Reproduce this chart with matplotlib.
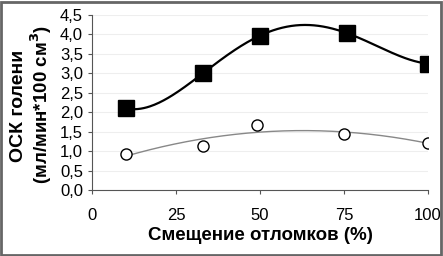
import numpy as np
import matplotlib.pyplot as plt
from matplotlib.patches import Rectangle

# data
shift = [10, 33, 50, 76, 100]
osk_black = [2.1, 3.0, 3.97, 4.03, 3.25]
circ_x = [10, 33, 49, 75, 100]
osk_open = [0.92, 1.12, 1.67, 1.45, 1.2]

xticks = [0, 25, 50, 75, 100]
yticks = np.arange(0, 4.51, 0.5)

plt.rcParams['font.family'] = ['Liberation Sans', 'DejaVu Sans']

fig = plt.figure(figsize=(4.43, 2.56), dpi=100)
ax = fig.add_axes([92/443, 1-190/256, 336/443, 175/256])

# smooth curves
xs = np.linspace(10, 100, 200)
p4 = np.polyfit(shift, osk_black, 4)
ax.plot(xs, np.polyval(p4, xs), color='black', lw=1.6, zorder=2)
p2 = np.polyfit(circ_x, osk_open, 2)
ax.plot(xs, np.polyval(p2, xs), color='#888888', lw=1.0, zorder=2)

ax.plot(shift, osk_black, 's', color='black', ms=11, zorder=3)
ax.plot(circ_x, osk_open, 'o', mfc='white', mec='black', mew=1.0, ms=8, zorder=3)

ax.set_xlim(0, 100)
ax.set_ylim(0, 4.5)
ax.set_xticks(xticks)
ax.set_yticks(yticks)
ax.set_yticklabels([('%.1f' % v).replace('.', ',') for v in yticks])
ax.tick_params(axis='both', labelsize=12, color='#555555', length=3, width=0.8)
ax.tick_params(axis='x', pad=10)
ax.grid(axis='y', color='#eeeeee', lw=0.8)
ax.set_axisbelow(True)
for s in ['top', 'right']:
    ax.spines[s].set_visible(False)
for s in ['left', 'bottom']:
    ax.spines[s].set_color('#555555')
    ax.spines[s].set_linewidth(0.8)

ax.set_xlabel('Смещение отломков (%)', fontsize=13.5, fontweight='bold', labelpad=3)
fig.text(19/443, 1-106/256, 'ОСК голени', rotation=90, fontsize=14,
         fontweight='bold', ha='center', va='center')
fig.text(41/443, 1-104/256, '(мл/мин*100 см$^\\mathbf{3}$)', rotation=90, fontsize=13.5,
         fontweight='bold', ha='center', va='center')

fig.patches.append(Rectangle((0.002, 0.004), 0.994, 0.99, transform=fig.transFigure,
                             fill=False, ec='#666666', lw=2))

fig.savefig('out.png', dpi=100)
